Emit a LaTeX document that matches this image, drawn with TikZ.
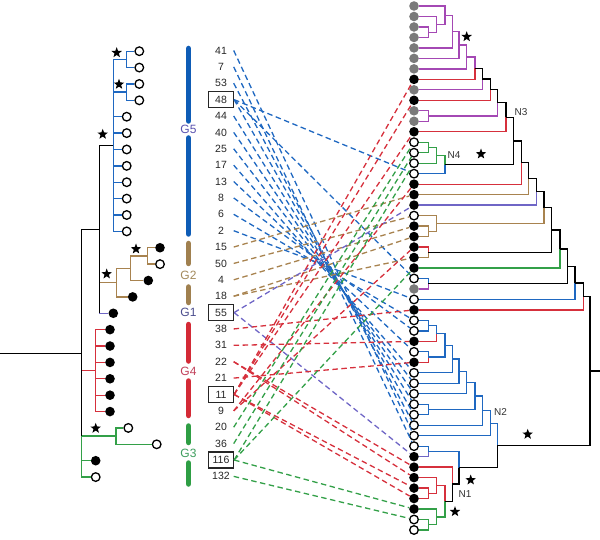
\documentclass[tikz,border=0pt]{standalone}
\usepackage{fontspec}
\setmainfont{Liberation Sans}
\usetikzlibrary{shapes.geometric}
\definecolor{cbl}{HTML}{1F68C1}
\definecolor{cbr}{HTML}{A8834F}
\definecolor{crd}{HTML}{D6303C}
\definecolor{cgr}{HTML}{33A048}
\definecolor{cpu}{HTML}{A448B4}
\definecolor{clv}{HTML}{6F66C6}
\definecolor{cgy}{HTML}{7A7A7A}
\definecolor{barbl}{HTML}{0E5CB6}
\definecolor{barbr}{HTML}{A0804F}
\definecolor{barrd}{HTML}{D42A36}
\definecolor{bargr}{HTML}{2E9E44}
\definecolor{tg5}{HTML}{5B53B0}
\definecolor{tg2}{HTML}{A38A5C}
\definecolor{tg1}{HTML}{4B4D8E}
\definecolor{tg4}{HTML}{C2405A}
\definecolor{tg3}{HTML}{3E9E5E}
\begin{document}
\begin{tikzpicture}[x=1pt,y=-1pt,
  brl/.style={line width=1.3pt},
  lo/.style={circle,draw=black,fill=white,line width=1.3pt,minimum size=8.6pt,inner sep=0pt},
  lb/.style={circle,fill=black,minimum size=9.6pt,inner sep=0pt},
  lg/.style={circle,fill=cgy,minimum size=9.6pt,inner sep=0pt},
  num/.style={minimum width=25pt,minimum height=16pt,inner sep=0pt,text=black!85,font=\fontsize{10.5}{12}\selectfont},
  plain/.style={},
  boxed/.style={draw=black!85,line width=1.2pt},
  dl/.style={line width=1.3pt,dash pattern=on 5.5pt off 3.5pt},
  starnode/.style={star,star points=5,star point ratio=2.4,fill=black,minimum size=11pt,inner sep=0pt},
  glab/.style={fill=white,inner sep=1pt,font=\fontsize{12}{14}\selectfont},
  nlab/.style={inner sep=0pt,text=black!80,font=\fontsize{10}{12}\selectfont},
  barln/.style={line width=5.5pt,line cap=round}]
\useasboundingbox (0,0) rectangle (600,540);

% ---------- number column ----------
\foreach \i/\v/\s in {1/41/plain,2/7/plain,3/53/plain,4/48/boxed,5/44/plain,6/40/plain,7/25/plain,8/17/plain,9/13/plain,10/8/plain,11/6/plain,12/2/plain,13/15/plain,14/50/plain,15/4/plain,16/18/plain,17/55/boxed,18/38/plain,19/31/plain,20/22/plain,21/21/plain,22/11/boxed,23/9/plain,24/20/plain,25/36/plain,26/116/boxed,27/132/plain}
  \node[num,\s] (nm\i) at (221,{50.5+16.38*(\i-1)}) {\v};

% ---------- right leaves ----------
\foreach \i/\t in {1/lg,2/lg,3/lg,4/lg,5/lg,6/lg,7/lg,8/lb,9/lg,10/lb,11/lg,12/lg,13/lb,14/lo,15/lo,16/lo,17/lo,18/lb,19/lb,20/lb,21/lo,22/lb,23/lb,24/lb,25/lb,26/lb,27/lo,28/lg,29/lo,30/lb,31/lo,32/lo,33/lb,34/lo,35/lb,36/lo,37/lo,38/lo,39/lo,40/lo,41/lo,42/lo,43/lo,44/lb,45/lb,46/lb,47/lb,48/lb,49/lb,50/lo,51/lo}
  \node[\t] (rl\i) at (414,{6+10.48*(\i-1)}) {};

% ---------- dashed connectors ----------
\foreach \a/\b/\col in {nm1/rl42/cbl,nm2/rl43/cbl,nm3/rl41/cbl,nm4/rl17/cbl,nm4/rl40/cbl,nm4/rl27/cbl,nm5/rl39/cbl,nm6/rl38/cbl,nm7/rl37/cbl,nm8/rl36/cbl,nm9/rl34/cbl,nm10/rl32/cbl,nm11/rl31/cbl,nm12/rl29/cbl,
  nm13/rl19/cbr,nm14/rl21/cbr,nm15/rl22/cbr,nm16/rl23/cbr,nm16/rl25/cbr,
  nm17/rl20/clv,nm17/rl44/clv,
  nm18/rl30/crd,nm19/rl33/crd,nm20/rl45/crd,nm20/rl46/crd,nm21/rl35/crd,nm22/rl8/crd,nm22/rl10/crd,nm22/rl13/crd,nm22/rl47/crd,nm22/rl48/crd,nm23/rl18/crd,nm23/rl24/crd,
  nm24/rl14/cgr,nm25/rl15/cgr,nm26/rl16/cgr,nm26/rl26/cgr,nm26/rl49/cgr,nm27/rl50/cgr}
  \draw[dl,\col] (\a.east) -- (\b);

% ---------- right tree internal nodes ----------
\coordinate (a1) at (428.3,32.2);
\coordinate (a2) at (436.7,24.35);
\coordinate (a3) at (445,15.18);
\coordinate (a4) at (452.3,31.54);
\coordinate (a5) at (459,44.97);
\coordinate (a6) at (466.7,56.94);
\coordinate (b1) at (475,68.17);
\coordinate (b2) at (482.3,78.99);
\coordinate (b3) at (490.7,89.64);
\coordinate (c1) at (428.3,116.05);
\coordinate (b4) at (497.7,102.85);
\coordinate (b5) at (506,117.33);
\coordinate (q4a) at (428.3,147.45);
\coordinate (q4b) at (436.7,155.33);
\coordinate (q4) at (445,164.51);
\coordinate (q3) at (513.3,140.92);
\coordinate (d1) at (521.7,162.56);
\coordinate (d2) at (528.3,178.58);
\coordinate (d3) at (536.7,191.84);
\coordinate (e1) at (428.3,231.35);
\coordinate (e2) at (436.7,223.48);
\coordinate (d4) at (544,207.66);
\coordinate (f1) at (428.3,252.25);
\coordinate (d5) at (551.7,229.96);
\coordinate (d6) at (560,248.98);
\coordinate (g1) at (428.3,283.75);
\coordinate (d7) at (567.3,266.37);
\coordinate (d8) at (575,282.89);
\coordinate (d9) at (583.3,296.4);
\coordinate (h1) at (428.3,325.65);
\coordinate (h2) at (436.7,333.53);
\coordinate (h3) at (428.3,357.05);
\coordinate (h4) at (445,345.29);
\coordinate (h5) at (452.3,359.05);
\coordinate (h6) at (459,371.18);
\coordinate (h7) at (466.7,382.49);
\coordinate (h8) at (428.3,409.45);
\coordinate (h9) at (475,395.97);
\coordinate (h10) at (482.3,410.59);
\coordinate (h11) at (490.7,423.15);
\coordinate (i1) at (428.3,451.4);
\coordinate (j1) at (428.3,493.35);
\coordinate (j2) at (436.7,485.48);
\coordinate (k1) at (428.3,524.75);
\coordinate (k2) at (436.7,516.88);
\coordinate (u1) at (445,501.18);
\coordinate (u2) at (452.3,484.14);
\coordinate (m1) at (459,467.77);
\coordinate (q2) at (497.7,445.46);
\coordinate (rt) at (590,370.93);
\coordinate (rs) at (600,370.93);

\foreach \c/\p/\col in {rl3/a1/cpu,rl4/a1/cpu,rl2/a2/cpu,a1/a2/cpu,rl1/a3/cpu,a2/a3/cpu,a3/a4/cpu,rl5/a4/cpu,a4/a5/cpu,rl6/a5/cpu,a5/a6/cpu,rl7/a6/cpu,a6/b1/cpu,rl8/b1/crd,b1/b2/black,rl9/b2/cpu,b2/b3/black,rl10/b3/crd,rl11/c1/cpu,rl12/c1/cpu,b3/b4/black,c1/b4/cpu,b4/b5/black,rl13/b5/crd,
  rl14/q4a/cgr,rl15/q4a/cgr,q4a/q4b/cgr,rl16/q4b/cgr,q4b/q4/cgr,rl17/q4/cbl,b5/q3/black,q4/q3/black,q3/d1/black,rl18/d1/crd,d1/d2/black,rl19/d2/cbr,d2/d3/black,rl20/d3/clv,
  rl22/e1/cbr,rl23/e1/cbr,rl21/e2/cbr,e1/e2/cbr,d3/d4/black,e2/d4/cbr,rl24/f1/crd,rl25/f1/cbr,d4/d5/black,f1/d5/black,d5/d6/black,rl26/d6/cgr,rl27/g1/cbl,rl28/g1/cpu,d6/d7/black,g1/d7/black,d7/d8/black,rl29/d8/cbl,d8/d9/black,rl30/d9/crd,
  rl31/h1/cbl,rl32/h1/cbl,h1/h2/cbl,rl33/h2/crd,rl34/h3/cbl,rl35/h3/crd,h2/h4/cbl,h3/h4/cbl,h4/h5/cbl,rl36/h5/cbl,h5/h6/cbl,rl37/h6/cbl,h6/h7/cbl,rl38/h7/cbl,rl39/h8/cbl,rl40/h8/cbl,h7/h9/cbl,h8/h9/cbl,h9/h10/cbl,rl41/h10/cbl,h10/h11/cbl,rl42/h11/cbl,
  rl43/i1/cbl,rl44/i1/clv,rl47/j1/crd,rl48/j1/crd,rl46/j2/crd,j1/j2/crd,rl50/k1/cgr,rl51/k1/cgr,rl49/k2/cgr,k1/k2/cgr,j2/u1/crd,k2/u1/cgr,rl45/u2/crd,u1/u2/black,i1/m1/cbl,u2/m1/black,h11/q2/cbl,m1/q2/black,d9/rt/black,q2/rt/black}
  \draw[brl,\col] (\c) -| (\p);
\draw[brl] (rt) -- (rs);

% ---------- left leaves ----------
\foreach \i/\x/\t in {1/139.3/lo,2/139.3/lo,3/139.3/lo,4/139.3/lo,5/126.7/lo,6/126.7/lo,7/126.7/lo,8/126.7/lo,9/126.7/lo,10/126.7/lo,11/126.7/lo,12/126.7/lo,13/160/lb,14/160/lo,15/148.3/lb,16/132.7/lb,17/113.3/lb,18/110/lb,19/110/lb,20/110/lb,21/110/lb,22/110/lb,23/110/lb,24/128.3/lo,25/156.7/lo,26/95.7/lb,27/95.7/lo}
  \node[\t] (lf\i) at (\x,{51.2+16.38*(\i-1)}) {};

\coordinate (p1) at (126.7,59.4);
\coordinate (p2) at (126.7,92.15);
\coordinate (bl) at (113.3,145.4);
\coordinate (w1) at (147.3,255.95);
\coordinate (w2) at (130.7,268.24);
\coordinate (w3) at (116.7,282.57);
\coordinate (pp) at (99.3,229.34);
\coordinate (rd) at (95.7,370.61);
\coordinate (gr) at (116,436.13);
\coordinate (lr) at (81.7,353.2);
\coordinate (lz) at (0,353.2);

\foreach \c/\p/\col in {lf1/p1/cbl,lf2/p1/cbl,lf3/p2/cbl,lf4/p2/cbl,p1/bl/cbl,p2/bl/cbl,lf5/bl/cbl,lf6/bl/cbl,lf7/bl/cbl,lf8/bl/cbl,lf9/bl/cbl,lf10/bl/cbl,lf11/bl/cbl,lf12/bl/cbl,
  lf13/w1/cbr,lf14/w1/cbr,w1/w2/cbr,lf15/w2/cbr,w2/w3/cbr,lf16/w3/cbr,w3/pp/cbr,lf17/pp/clv,
  lf18/rd/crd,lf19/rd/crd,lf20/rd/crd,lf21/rd/crd,lf22/rd/crd,lf23/rd/crd,rd/lr/crd,
  lf24/gr/cgr,lf25/gr/cgr,gr/lr/cgr,lf26/lr/cgr,lf27/lr/cgr}
  \draw[brl,\col] (\c) -| (\p);
\draw[brl] (bl) -| (pp);
\draw[brl] (pp) -- (pp |- lf17);
\draw[brl] (pp) -| (lr);
\draw[brl] (lr) -- (lr |- gr);
\draw[brl] (lz) -- (lr);

% ---------- group bars and labels ----------
\draw[barln,barbl] (188.5,48.5) -- (188.5,121);
\draw[barln,barbl] (188.5,138) -- (188.5,234);
\draw[barln,barbr] (188.5,243.5) -- (188.5,263.5);
\draw[barln,barbr] (188.5,287) -- (188.5,302.5);
\draw[barln,barrd] (188.5,324.5) -- (188.5,361);
\draw[barln,barrd] (188.5,381) -- (188.5,415.5);
\draw[barln,bargr] (188.5,426) -- (188.5,442.5);
\draw[barln,bargr] (188.5,463) -- (188.5,484);
\node[glab,text=tg5] (g5) at (188.5,129.5) {G5};
\node[glab,text=tg2] (g2) at (188.5,275) {G2};
\node[glab,text=tg1] (g1) at (188.5,312.6) {G1};
\node[glab,text=tg4] (g4) at (188.5,371) {G4};
\node[glab,text=tg3] (g3) at (188.5,453) {G3};

% ---------- stars ----------
\node[starnode] (s1) at (116.7,52.7) {};
\node[starnode] (s2) at (119,84.3) {};
\node[starnode] (s3) at (102.7,134.3) {};
\node[starnode] (s4) at (136,249) {};
\node[starnode] (s5) at (106.7,274) {};
\node[starnode] (s6) at (95.7,428.3) {};
\node[starnode] (s7) at (466.7,36.7) {};
\node[starnode] (s8) at (481,154) {};
\node[starnode] (s9) at (527.7,434.3) {};
\node[starnode] (s10) at (470.7,480) {};
\node[starnode] (s11) at (455,511.7) {};

% ---------- clade labels ----------
\node[nlab] (lab1) at (465,494.5) {N1};
\node[nlab] (lab2) at (500.5,412.5) {N2};
\node[nlab] (lab3) at (521,112.5) {N3};
\node[nlab] (lab4) at (454,155) {N4};
\end{tikzpicture}
\end{document}
